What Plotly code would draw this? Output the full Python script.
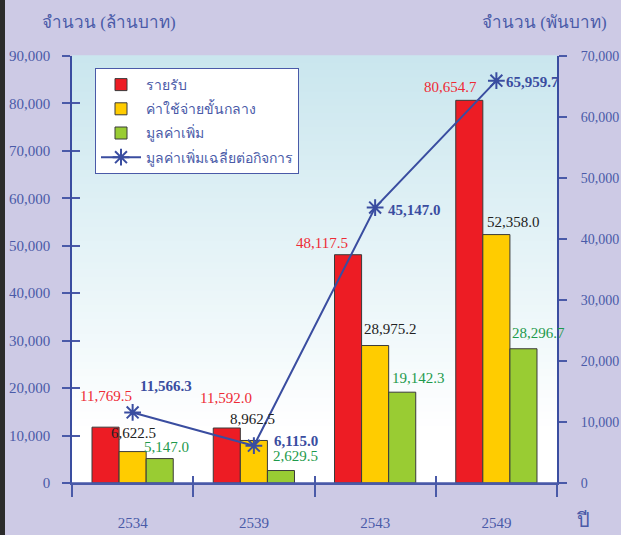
import plotly.graph_objects as go

# ---------------- data ----------------
years = ["2534", "2539", "2543", "2549"]
revenue = [11769.5, 11592.0, 48117.5, 80654.7]          # รายรับ (ล้านบาท)
intermediate = [6622.5, 8962.5, 28975.2, 52358.0]       # ค่าใช้จ่ายขั้นกลาง (ล้านบาท)
value_added = [5147.0, 2629.5, 19142.3, 28296.7]        # มูลค่าเพิ่ม (ล้านบาท)
va_per_firm = [11566.3, 6115.0, 45147.0, 65959.7]       # มูลค่าเพิ่มเฉลี่ยต่อกิจการ (พันบาท)

series_names = ["รายรับ", "ค่าใช้จ่ายขั้นกลาง", "มูลค่าเพิ่ม", "มูลค่าเพิ่มเฉลี่ยต่อกิจการ"]
left_ticks = [0, 10000, 20000, 30000, 40000, 50000, 60000, 70000, 80000, 90000]
right_ticks = [0, 10000, 20000, 30000, 40000, 50000, 60000, 70000]

# ---------------- styles ----------------
RED = "#ED1C24"
YEL = "#FFCC00"
GRN = "#99CC33"
LINE = "#3A4DA0"
AX = "#4A5AA8"
BG = "#CDCAE5"
SERIF = "Liberation Serif, Times New Roman, serif"

PL, PR, PT, PB = 72, 64, 56, 52
W, H = 621, 535
pw, ph = W - PL - PR, H - PT - PB

fig = go.Figure()

for i, (vals, col, name) in enumerate([(revenue, RED, series_names[0]),
                                       (intermediate, YEL, series_names[1]),
                                       (value_added, GRN, series_names[2])]):
    fig.add_trace(go.Bar(x=years, y=vals, name=name, legendgroup=f"g{i}",
                         marker=dict(color=col, line=dict(color="#3a3a3a", width=1)), hoverinfo="y"))

fig.add_trace(go.Scatter(x=years, y=va_per_firm, name=series_names[3], yaxis="y2", mode="lines+markers",
                         legendgroup="g3",
                         line=dict(color=LINE, width=2),
                         marker=dict(symbol="asterisk-open", size=14, line=dict(color=LINE, width=2), color=LINE)))

# invisible trace for the inside-tick overlay axes
fig.add_trace(go.Scatter(x=[None], y=[None], xaxis="x2", yaxis="y3", showlegend=False, hoverinfo="skip"))

# ---------------- value labels (pixel offsets from category centre / value) ----------------
red_off = [(-27, -31), (-28, -30), (-53, -12), (-46, -13)]
yel_off = [(1, -19), (-1, -21), (15, -17), (17, -13)]
grn_off = [(34, -12), (42, -15), (43, -14), (42, -16)]
line_off = [(33, -26), (42, -5), (39, 2), (36, 1)]

ann = []
def add_labels(vals, offs, color, yref, bold=False):
    for idx, (v, (dx, dy)) in enumerate(zip(vals, offs)):
        txt = f"{v:,.1f}"
        if bold:
            txt = f"<b>{txt}</b>"
        ann.append(dict(x=idx, y=v, xref="x", yref=yref, text=txt, showarrow=False,
                        xshift=dx, yshift=-dy, xanchor="center", yanchor="middle",
                        font=dict(family=SERIF, size=15, color=color)))

add_labels(revenue, red_off, "#EE2A35", "y")
add_labels(intermediate, yel_off, "#222222", "y")
add_labels(value_added, grn_off, "#1E9A4C", "y")
add_labels(va_per_firm, line_off, LINE, "y2", bold=True)

def px_ann(xp, yp, text, size):
    return dict(x=(xp - PL) / pw, y=(H - yp - PB) / ph, xref="paper", yref="paper", text=text,
                showarrow=False, xanchor="center", yanchor="middle",
                font=dict(family=SERIF, size=size, color=AX))

ann += [
    px_ann(109, 23, "จำนวน (ล้านบาท)", 17),
    px_ann(544, 23, "จำนวน (พันบาท)", 17),
    px_ann(583, 520, "ปี", 20),
]

# ---------------- gradient plot background ----------------
shapes = []
nb = 60
top = (0xC9, 0xE6, 0xEE)
for i in range(nb):
    y0 = i / nb
    y1 = (i + 1) / nb
    t = max(0.0, min(1.0, ((y0 + y1) / 2 - 0.12) / 0.88))
    c = tuple(round(255 + (tc - 255) * t) for tc in top)
    shapes.append(dict(type="rect", xref="paper", yref="paper", x0=0, x1=1, y0=y0, y1=y1 + 0.002,
                       fillcolor=f"rgb{c}", line=dict(width=0), layer="below"))
# left dark strip of the original image
shapes.append(dict(type="rect", xref="paper", yref="paper", x0=-PL / pw, x1=(5 - PL) / pw,
                   y0=-PB / ph, y1=1 + PT / ph, fillcolor="#2B2B2B", line=dict(width=0), layer="above"))
# extended baseline
shapes.append(dict(type="line", xref="paper", yref="paper", x0=-8 / pw, x1=1 + 9 / pw, y0=0, y1=0,
                   line=dict(color=AX, width=1.5), layer="above"))

tickfont = dict(family=SERIF, size=15, color=AX)
tickfont_r = dict(family=SERIF, size=14, color=AX)

fig.update_layout(
    width=W, height=H,
    margin=dict(l=PL, r=PR, t=PT, b=PB, pad=0, autoexpand=False),
    paper_bgcolor=BG, plot_bgcolor="rgba(0,0,0,0)",
    barmode="group", bargap=0.33, bargroupgap=0,
    showlegend=True,
    legend=dict(x=(95 - PL) / pw, y=(483 - 68) / ph, xanchor="left", yanchor="top",
                bgcolor="white", bordercolor=AX, borderwidth=1,
                font=dict(family=SERIF, size=14, color=AX), tracegroupgap=3, itemwidth=40),
    xaxis=dict(type="category", tickson="boundaries", ticks="outside", ticklen=12, tickwidth=1.5, tickcolor=AX,
               showline=True, linecolor=AX, linewidth=1.5, showgrid=False, tickfont=tickfont,
               ticklabelstandoff=25, range=[-0.5, 3.5], automargin=False),
    yaxis=dict(range=[0, 90000], tickvals=left_ticks, tickformat=",d", ticks="outside", ticklen=8, tickwidth=1.5,
               tickcolor=AX, showline=True, linecolor=LINE, linewidth=1.5, showgrid=False, zeroline=False,
               tickfont=tickfont, ticklabelstandoff=9, automargin=False),
    yaxis2=dict(range=[0, 70000], tickvals=right_ticks, tickformat=",d", overlaying="y", side="right",
                ticks="outside", ticklen=8, tickwidth=1.5, tickcolor=AX, showline=True, linecolor=LINE,
                linewidth=2, showgrid=False, zeroline=False, tickfont=tickfont_r, ticklabelstandoff=11,
                automargin=False),
    xaxis2=dict(overlaying="x", anchor="y3", range=[-0.5, 3.5], tickvals=[-0.5, 0.5, 1.5, 2.5, 3.5],
                ticks="inside", ticklen=7, tickwidth=1.5, tickcolor=AX, showticklabels=False,
                showgrid=False, zeroline=False, showline=False, automargin=False),
    yaxis3=dict(overlaying="y", anchor="x2", side="left", range=[0, 90000], tickvals=left_ticks,
                ticks="inside", ticklen=8, tickwidth=1.5, tickcolor=AX, showticklabels=False,
                showgrid=False, zeroline=False, showline=False, automargin=False),
    annotations=ann,
    shapes=shapes,
)

fig.write_html("out.html", config={"displayModeBar": False},
               post_script="document.body.style.margin='0';document.body.style.background='#CDCAE5';")
